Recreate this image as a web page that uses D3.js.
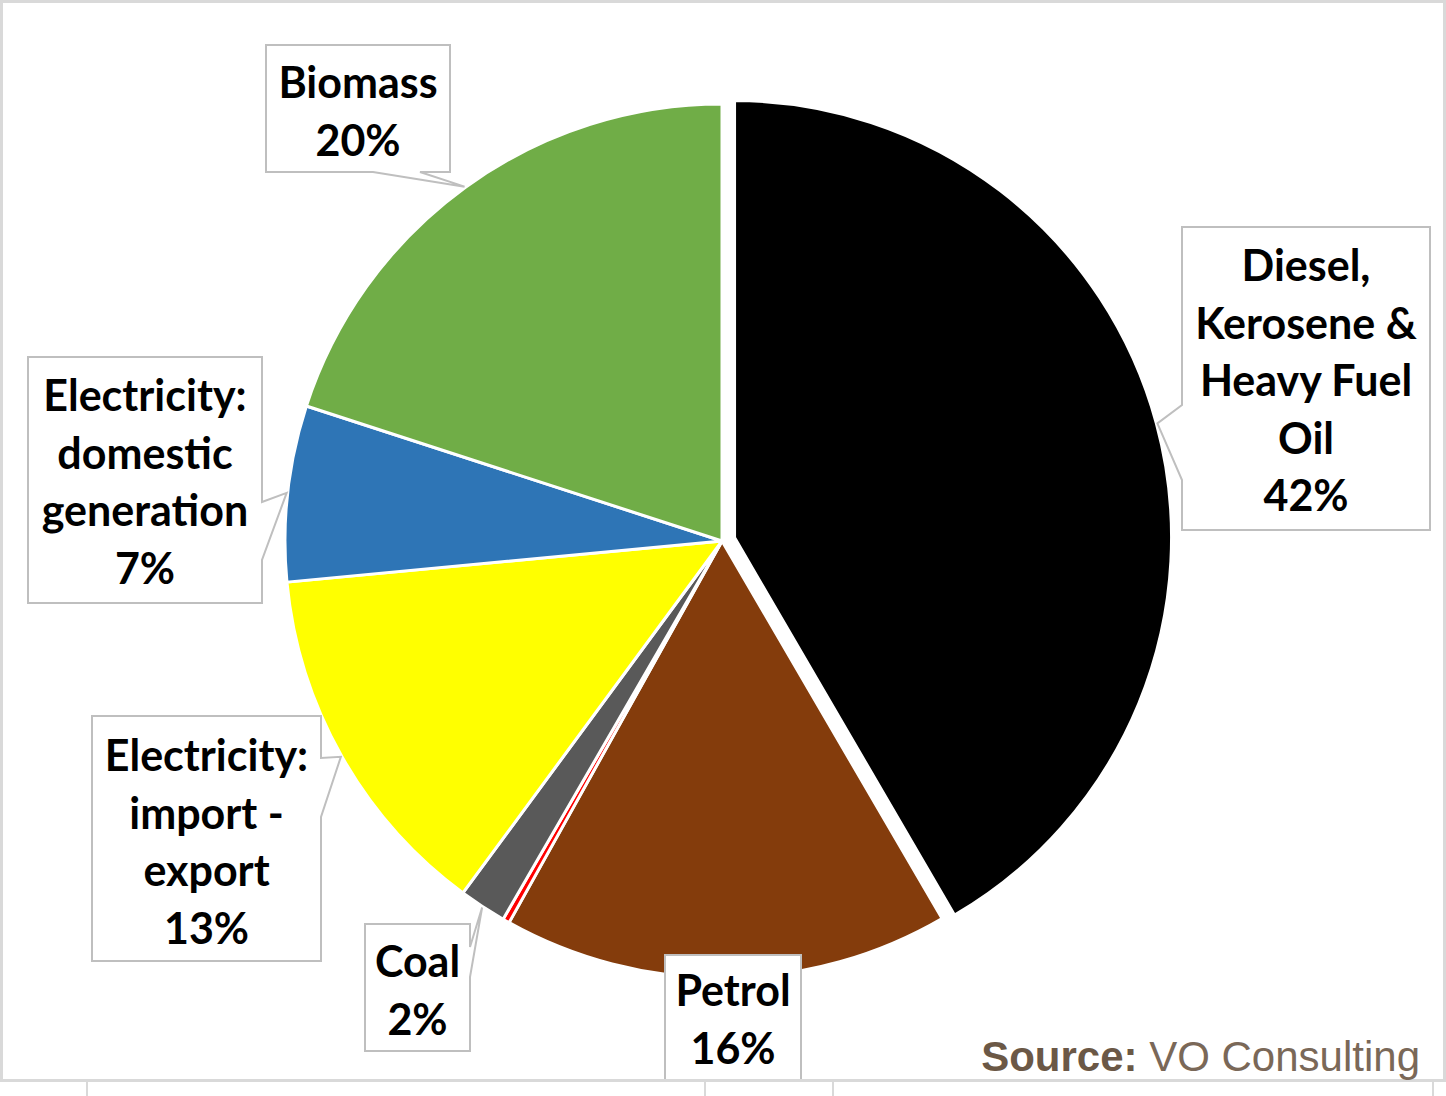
<!DOCTYPE html>
<html>
<head>
<meta charset="utf-8">
<script src="https://cdn.jsdelivr.net/npm/d3@7"></script>
<style>
  body { margin: 0; background: #fff; }
  svg { display: block; }
</style>
</head>
<body>
<script>
// Energy mix (share of final consumption, %)
const categories = ['Diesel, Kerosene & Heavy Fuel Oil', 'Petrol', 'Other', 'Coal',
                    'Electricity: import - export', 'Electricity: domestic generation', 'Biomass'];
const shares = [41.6, 16.5, 0.25, 1.75, 13.4, 6.5, 20.0];
const colors = ['#000000', '#843c0c', '#ff0000', '#595959', '#ffff00', '#2e75b6', '#70ad47'];
const labelLines = [
  ['Diesel,', 'Kerosene &', 'Heavy Fuel', 'Oil', '42%'],
  ['Petrol', '16%'],
  null,
  ['Coal', '2%'],
  ['Electricity:', 'import -', 'export', '13%'],
  ['Electricity:', 'domestic', 'generation', '7%'],
  ['Biomass', '20%']
];

const W = 1446, H = 1096;
const cx = 722, cy = 541, radius = 437;
const explode = [13, 0, 0, 0, 0, 0, 0];

// label boxes: box rect, callout side + two points on that edge
const layout = [
  { x: 1182, y: 227, w: 248, h: 303, side: 'left', a: 405, b: 480, first: 281 },
  { x: 665, y: 955, w: 136, h: 125, side: null, first: 1006 },
  null,
  { x: 365, y: 924, w: 105, h: 127, side: 'right', a: 947, b: 977, first: 977 },
  { x: 92, y: 716, w: 229, h: 245, side: 'right', a: 758, b: 817, first: 771 },
  { x: 28, y: 357, w: 234, h: 246, side: 'right', a: 502, b: 560, first: 411 },
  { x: 266, y: 45, w: 184, h: 127, side: 'bottom', a: 420, b: 373, first: 98 }
];
const lineStep = 57.5;

const svg = d3.select('body').append('svg')
  .attr('width', W)
  .attr('height', H);

// outer frame
svg.append('rect')
  .attr('x', 1.5).attr('y', 1.5)
  .attr('width', W - 3).attr('height', 1079)
  .attr('fill', 'none')
  .attr('stroke', '#d9d9d9')
  .attr('stroke-width', 3);

[87, 705, 833, 1433].forEach(x => {
  svg.append('line')
    .attr('x1', x).attr('x2', x)
    .attr('y1', 1082).attr('y2', H)
    .attr('stroke', '#d9d9d9')
    .attr('stroke-width', 2);
});

const pie = d3.pie().sort(null).value(d => d)(shares);
const arc = d3.arc().innerRadius(0).outerRadius(radius);

const g = svg.append('g').attr('transform', `translate(${cx},${cy})`);

g.selectAll('path')
  .data(pie)
  .enter()
  .append('path')
  .attr('d', arc)
  .attr('transform', (d, i) => {
    const mid = (d.startAngle + d.endAngle) / 2;
    return `translate(${Math.sin(mid) * explode[i]},${-Math.cos(mid) * explode[i]})`;
  })
  .attr('fill', (d, i) => colors[i])
  .attr('stroke', '#fff')
  .attr('stroke-width', 3)
  .attr('stroke-linejoin', 'round');

// callout labels
pie.forEach((d, i) => {
  const L = layout[i];
  if (!L) return;
  const mid = (d.startAngle + d.endAngle) / 2;
  const ox = cx + Math.sin(mid) * explode[i];
  const oy = cy - Math.cos(mid) * explode[i];
  const tx = ox + Math.sin(mid) * (radius + 1);
  const ty = oy - Math.cos(mid) * (radius + 1);
  const x0 = L.x, y0 = L.y, x1 = L.x + L.w, y1 = L.y + L.h;

  let p;
  if (L.side === 'right') {
    p = `M${x0},${y0}H${x1}V${L.a}L${tx},${ty}L${x1},${L.b}V${y1}H${x0}Z`;
  } else if (L.side === 'left') {
    p = `M${x0},${y0}H${x1}V${y1}H${x0}V${L.b}L${tx},${ty}L${x0},${L.a}Z`;
  } else if (L.side === 'bottom') {
    p = `M${x0},${y0}H${x1}V${y1}H${L.a}L${tx},${ty}L${L.b},${y1}H${x0}Z`;
  } else {
    p = `M${x0},${y0}H${x1}V${y1}H${x0}Z`;
  }

  svg.append('path')
    .attr('d', p)
    .attr('fill', '#fff')
    .attr('stroke', '#bfbfbf')
    .attr('stroke-width', 2);

  const t = svg.append('text')
    .attr('text-anchor', 'middle')
    .attr('font-family', 'Lato, "Open Sans", sans-serif')
    .attr('font-weight', 700)
    .attr('font-size', 43)
    .attr('fill', '#000');

  labelLines[i].forEach((line, k) => {
    t.append('tspan')
      .attr('x', L.x + L.w / 2)
      .attr('y', L.first + k * lineStep)
      .text(line);
  });
});

// redraw bottom frame edge over the clipped petrol box
svg.append('line')
  .attr('x1', 0).attr('x2', W)
  .attr('y1', 1080.5).attr('y2', 1080.5)
  .attr('stroke', '#d9d9d9')
  .attr('stroke-width', 3);

// source note
const src = svg.append('text')
  .attr('x', 1420)
  .attr('y', 1071)
  .attr('text-anchor', 'end')
  .attr('font-family', '"Liberation Sans", Arial, sans-serif')
  .attr('font-size', 42);

src.append('tspan')
  .attr('font-weight', 700)
  .attr('fill', '#6b5846')
  .text('Source: ');

src.append('tspan')
  .attr('fill', '#7a6858')
  .text('VO Consulting');
</script>
</body>
</html>
